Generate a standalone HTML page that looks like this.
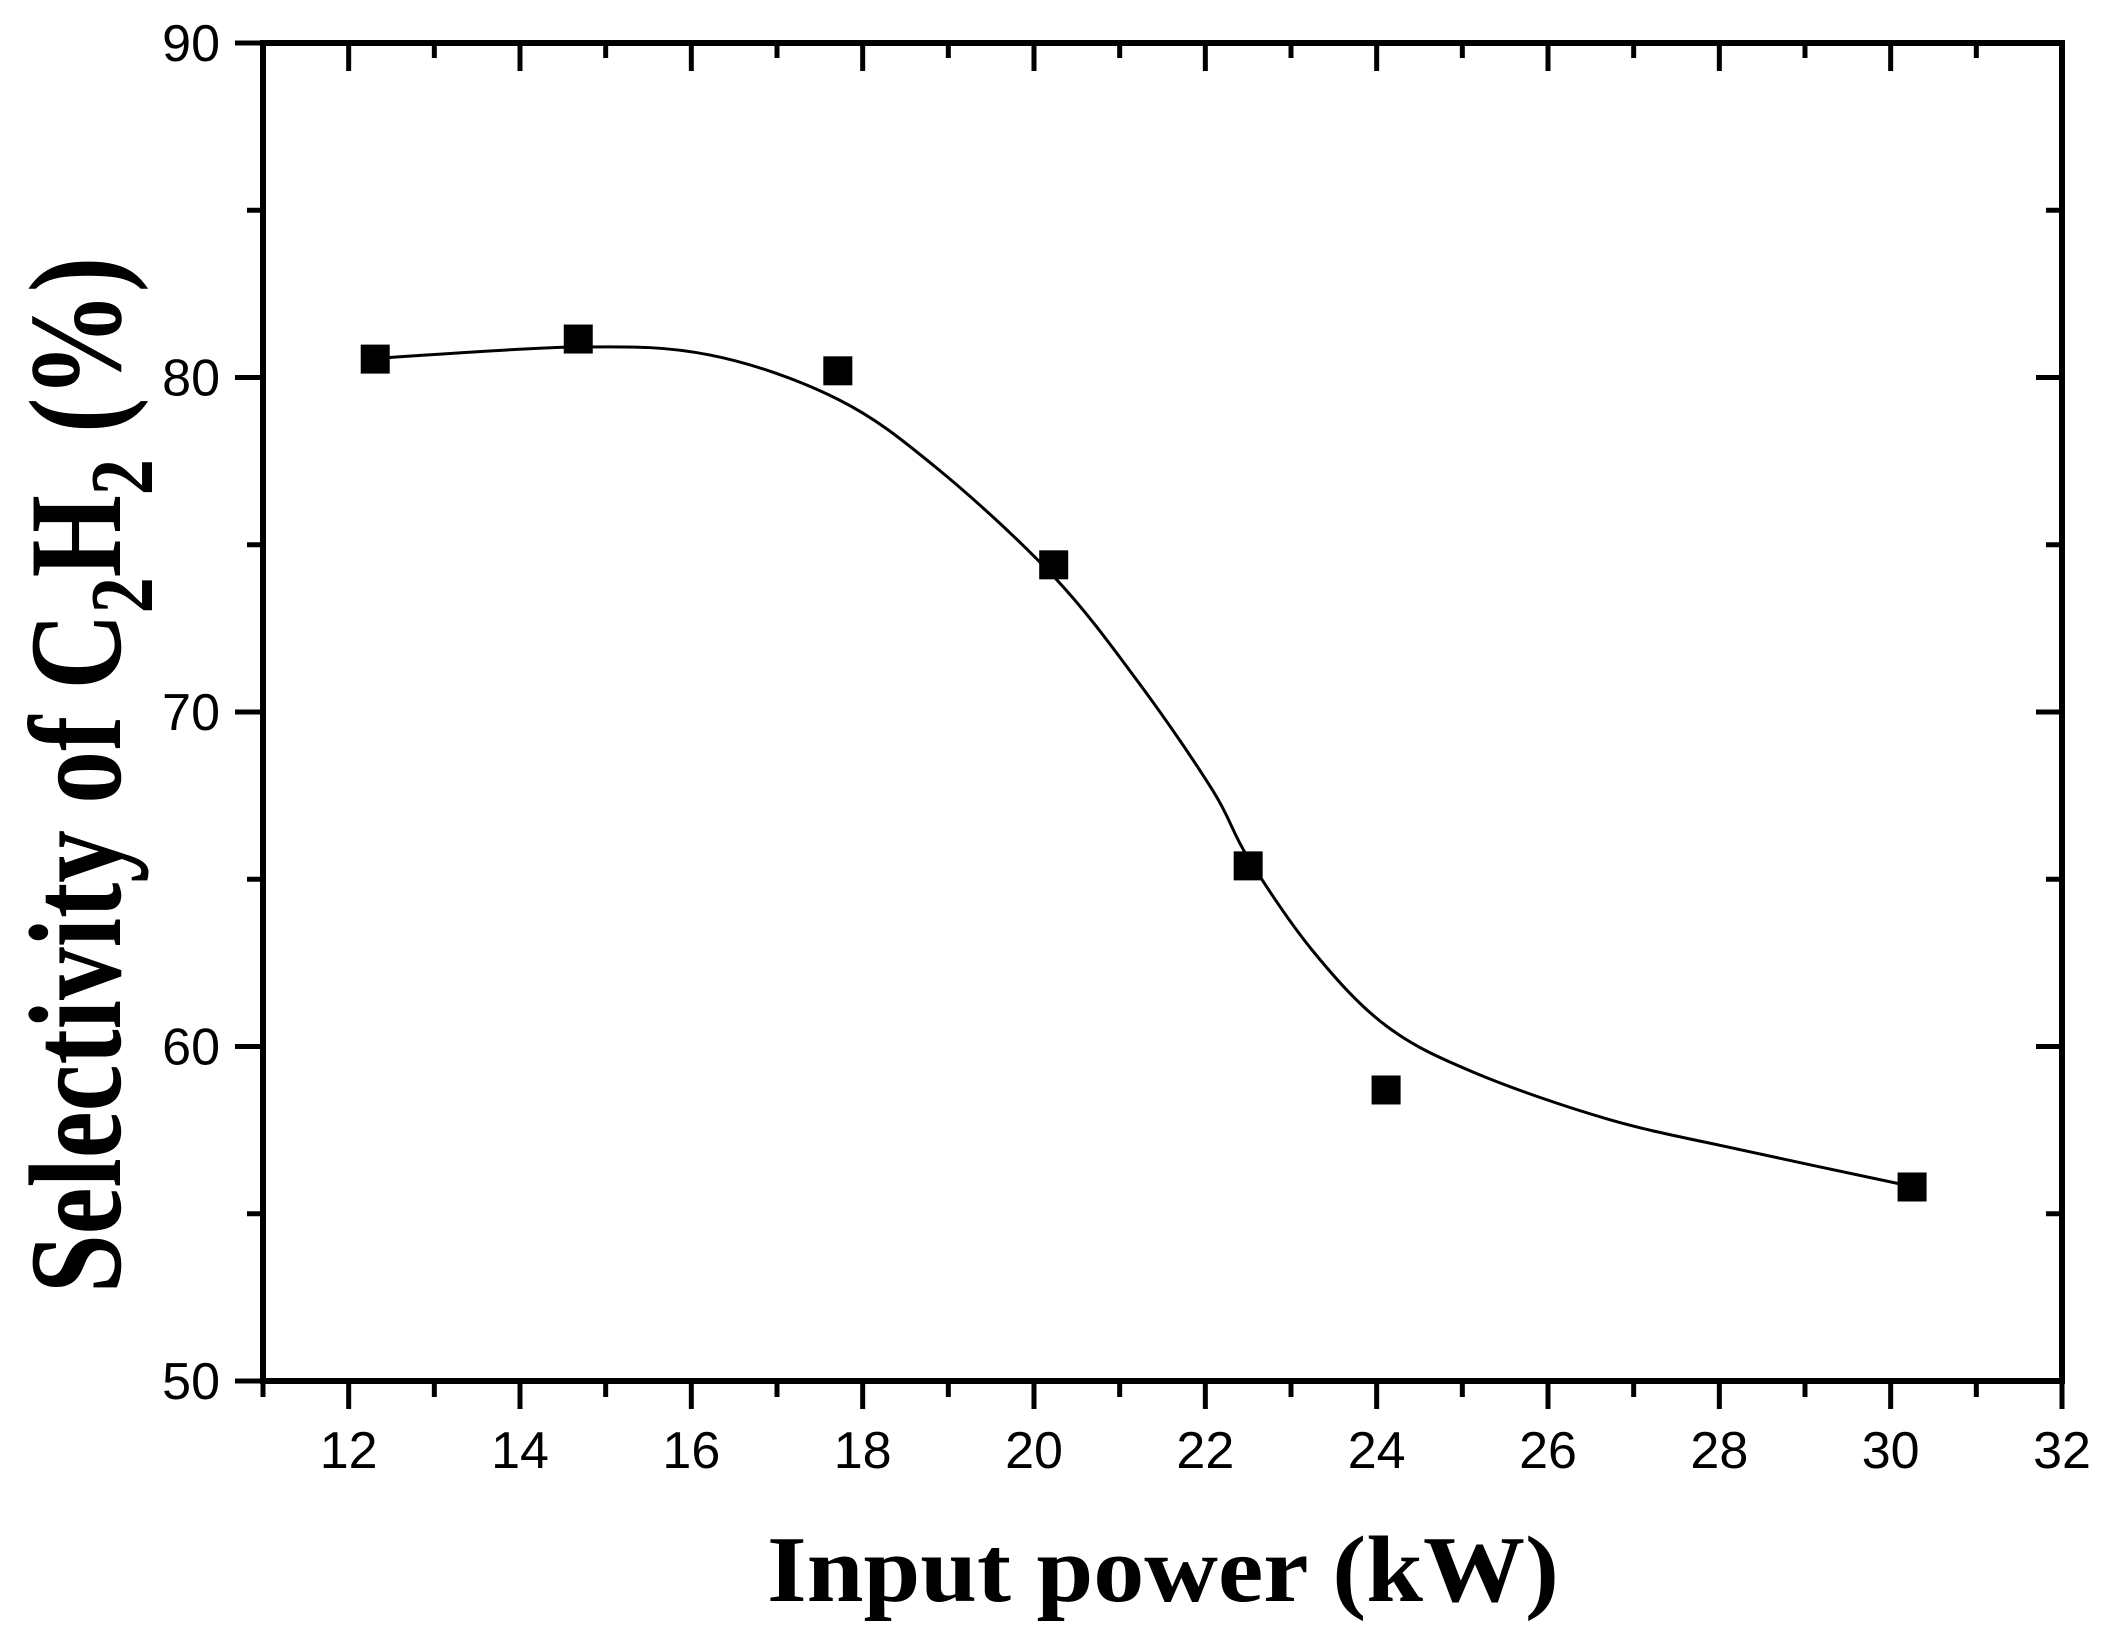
<!DOCTYPE html>
<html><head><meta charset="utf-8"><style>
html,body{margin:0;padding:0;background:#fff;}
svg{display:block;}
</style></head><body>
<svg id="chart" width="2102" height="1639" viewBox="0 0 2102 1639" xmlns="http://www.w3.org/2000/svg">
<rect width="2102" height="1639" fill="#fff"/>
<g id="ticks"></g>
<g id="labels" font-family="Liberation Sans, sans-serif" font-size="52" fill="#000"></g>
<path id="fit" fill="none" stroke="#000" stroke-width="3"/>
<g id="pts"></g>
<rect x="263" y="43" width="1799" height="1338" fill="none" stroke="#000" stroke-width="6"/>
<text x="1163" y="1601" text-anchor="middle" font-family="Liberation Serif, serif" font-weight="bold" font-size="94" textLength="792" lengthAdjust="spacingAndGlyphs">Input power (kW)</text>
<text transform="translate(120,775) rotate(-90)" text-anchor="middle" font-family="Liberation Serif, serif" font-weight="bold" font-size="132" textLength="1036" lengthAdjust="spacingAndGlyphs">Selectivity of C<tspan dy="32" font-size="90">2</tspan><tspan dy="-32">H</tspan><tspan dy="32" font-size="90">2</tspan><tspan dy="-32"> (%)</tspan></text>
</svg>
<script>
const xTicks = [12,14,16,18,20,22,24,26,28,30,32];
const yTicks = [50,60,70,80,90];
const pointX = [12.31,14.68,17.71,20.23,22.5,24.11,30.25];
const pointY = [80.55,81.15,80.2,74.4,65.4,58.7,55.8];
const curveX = [12.19,14.66,16.22,17.71,18.88,20.23,21.23,22.09,22.5,23.26,24.11,25.14,26.71,28.27,30.24];
const curveY = [80.55,80.91,80.67,79.35,77.26,74.05,70.85,67.64,65.64,62.84,60.62,59.22,57.82,56.9,55.82];

const X0=263,X1=2062,Y0=1381,Y1=43,XMIN=11,XMAX=32,YMIN=50,YMAX=90;
const sx=v=>X0+(v-XMIN)/(XMAX-XMIN)*(X1-X0);
const sy=v=>Y0-(v-YMIN)/(YMAX-YMIN)*(Y0-Y1);
const NS='http://www.w3.org/2000/svg';
const tg=document.getElementById('ticks'), lg=document.getElementById('labels');
function line(x1,y1,x2,y2,w){const l=document.createElementNS(NS,'line');
l.setAttribute('x1',x1);l.setAttribute('y1',y1);l.setAttribute('x2',x2);l.setAttribute('y2',y2);
l.setAttribute('stroke','#000');l.setAttribute('stroke-width',w);


tg.appendChild(l);}
for(let v=XMIN; v<=XMAX; v++){
  const major = v%2===0; const x=sx(v);
  line(x,Y0,x,Y0+(major?28:16),5);
  line(x,Y1,x,Y1+(major?28:15),5);
}
for(let v=YMIN; v<=YMAX; v+=5){
  const major = v%10===0; const y=sy(v);
  line(X0,y,X0-(major?28:16),y,5);
  line(X1,y,X1-(major?26:16),y,5);
}
xTicks.forEach(v=>{const t=document.createElementNS(NS,'text');
t.setAttribute('x',sx(v));t.setAttribute('y',1468);t.setAttribute('text-anchor','middle');
t.textContent=v;


lg.appendChild(t);});
yTicks.forEach(v=>{const t=document.createElementNS(NS,'text');
t.setAttribute('x',220);t.setAttribute('y',sy(v)+18);t.setAttribute('text-anchor','end');
t.textContent=v;


lg.appendChild(t);});
const P=curveX.map((v,i)=>[sx(v),sy(curveY[i])]);
let d='M'+P[0][0]+','+P[0][1];
for(let i=0;i<P.length-1;i++){
  const p0=P[Math.max(0,i-1)],p1=P[i],p2=P[i+1],p3=P[Math.min(P.length-1,i+2)];
  const c1=[p1[0]+(p2[0]-p0[0])/6,p1[1]+(p2[1]-p0[1])/6];
  const c2=[p2[0]-(p3[0]-p1[0])/6,p2[1]-(p3[1]-p1[1])/6];
  d+=' C'+c1+' '+c2+' '+p2;
}
document.getElementById('fit').setAttribute('d',d);
const pg=document.getElementById('pts');
pointX.forEach((v,i)=>{const r=document.createElementNS(NS,'rect');
const s=29;
r.setAttribute('x',sx(v)-s/2);r.setAttribute('y',sy(pointY[i])-s/2);
r.setAttribute('width',s);r.setAttribute('height',s);r.setAttribute('fill','#000');


pg.appendChild(r);});
</script>
</body></html>
